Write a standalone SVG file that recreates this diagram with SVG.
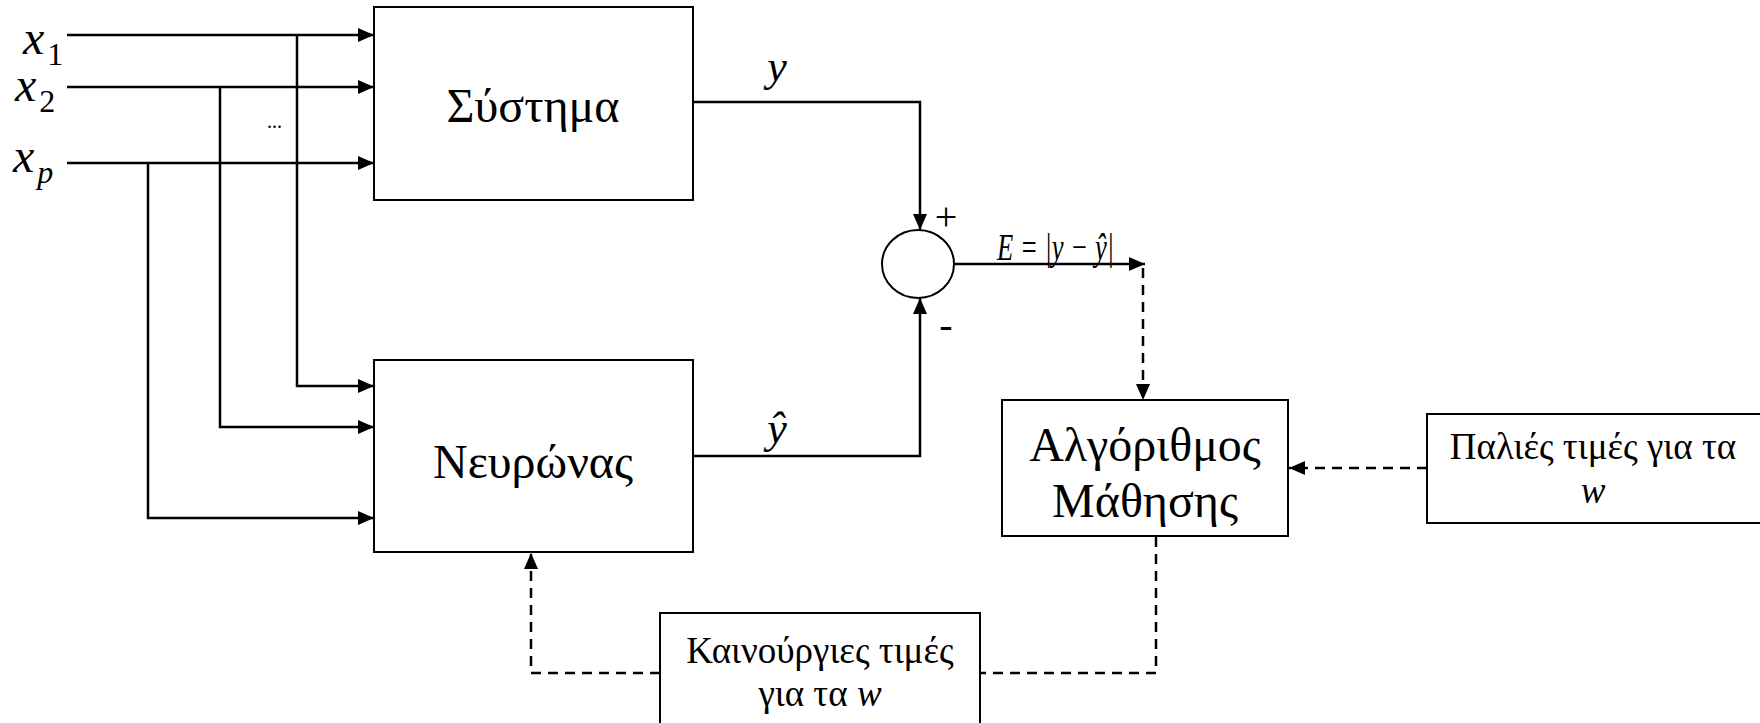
<svg xmlns="http://www.w3.org/2000/svg" width="1760" height="723" viewBox="0 0 1760 723">
<style>
.ln{stroke:#000;stroke-width:2.5;fill:none}
.dl{stroke:#000;stroke-width:2.5;fill:none;stroke-dasharray:10 7}
.bx{stroke:#000;stroke-width:2;fill:#fff}
.t{font-family:"Liberation Serif","Times New Roman",serif;fill:#000}
.it{font-style:italic}
.sub{font-size:32px}
</style>
<defs>
<marker id="ah" viewBox="0 0 16 14" refX="16" refY="7" markerWidth="16" markerHeight="14" markerUnits="userSpaceOnUse" orient="auto">
<path d="M0,0 L16,7 L0,14 Z" fill="#000"/>
</marker>
</defs>
<rect width="1760" height="723" fill="#fff"/>
<g id="connectors">
<path class="ln" d="M67,35 H374" marker-end="url(#ah)"/>
<path class="ln" d="M67,87 H374" marker-end="url(#ah)"/>
<path class="ln" d="M67,163 H374" marker-end="url(#ah)"/>
<path class="ln" d="M297,35 V386 H374" marker-end="url(#ah)"/>
<path class="ln" d="M220,87 V427 H374" marker-end="url(#ah)"/>
<path class="ln" d="M148,163 V518 H374" marker-end="url(#ah)"/>
<path class="ln" d="M694,102 H920 V230" marker-end="url(#ah)"/>
<path class="ln" d="M694,456 H920 V298" marker-end="url(#ah)"/>
<path class="ln" d="M955,264 H1145" marker-end="url(#ah)"/>
<path class="dl" d="M1143,268 V400" marker-end="url(#ah)"/>
<path class="dl" d="M1427,468 H1289" marker-end="url(#ah)"/>
<path class="dl" d="M1156,537 V673 H980"/>
<path class="dl" d="M660,673 H531 V553" marker-end="url(#ah)"/>
</g>
<g id="inputs">
<text class="t it" x="23" y="54" font-size="48">x<tspan class="sub" font-style="normal" dx="3" dy="11">1</tspan></text>
<text class="t it" x="15" y="101" font-size="48">x<tspan class="sub" font-style="normal" dx="3" dy="11">2</tspan></text>
<text class="t it" x="13" y="172" font-size="48">x<tspan class="sub" dx="3" dy="11">p</tspan></text>
<text class="t" x="267" y="128" font-size="20">...</text>
</g>
<g id="systima">
<rect class="bx" x="374" y="7" width="319" height="193"/>
<text class="t" x="533" y="122" font-size="48" text-anchor="middle">Σύστημα</text>
</g>
<g id="neuronas">
<rect class="bx" x="374" y="360" width="319" height="192"/>
<text class="t" x="533" y="478" font-size="48" text-anchor="middle">Νευρώνας</text>
</g>
<g id="labels">
<text class="t it" x="777" y="81" font-size="44" text-anchor="middle">y</text>
<text class="t it" x="777" y="443" font-size="44" text-anchor="middle">ŷ</text>
<text class="t" x="946" y="230" font-size="40" text-anchor="middle">+</text>
<text class="t" x="946" y="338" font-size="40" text-anchor="middle">-</text>
<text class="t it" x="997" y="260" font-size="38" textLength="117" lengthAdjust="spacingAndGlyphs">E = |y − ŷ|</text>
</g>
<g id="summer">
<ellipse class="bx" cx="918" cy="264" rx="36" ry="34"/>
</g>
<g id="algorithmos">
<rect class="bx" x="1002" y="400" width="286" height="136"/>
<text class="t" x="1145" y="461" font-size="48" text-anchor="middle">Αλγόριθμος</text>
<text class="t" x="1145" y="517" font-size="48" text-anchor="middle">Μάθησης</text>
</g>
<g id="palies">
<rect class="bx" x="1427" y="414" width="340" height="109"/>
<text class="t" x="1593" y="459" font-size="37" text-anchor="middle">Παλιές τιμές για τα</text>
<text class="t it" x="1593" y="503" font-size="37" text-anchor="middle">w</text>
</g>
<g id="kainourgies">
<rect class="bx" x="660" y="613" width="320" height="115"/>
<text class="t" x="820" y="663" font-size="37" text-anchor="middle">Καινούργιες τιμές</text>
<text class="t" x="820" y="706" font-size="37" text-anchor="middle">για τα <tspan class="it">w</tspan></text>
</g>
</svg>
